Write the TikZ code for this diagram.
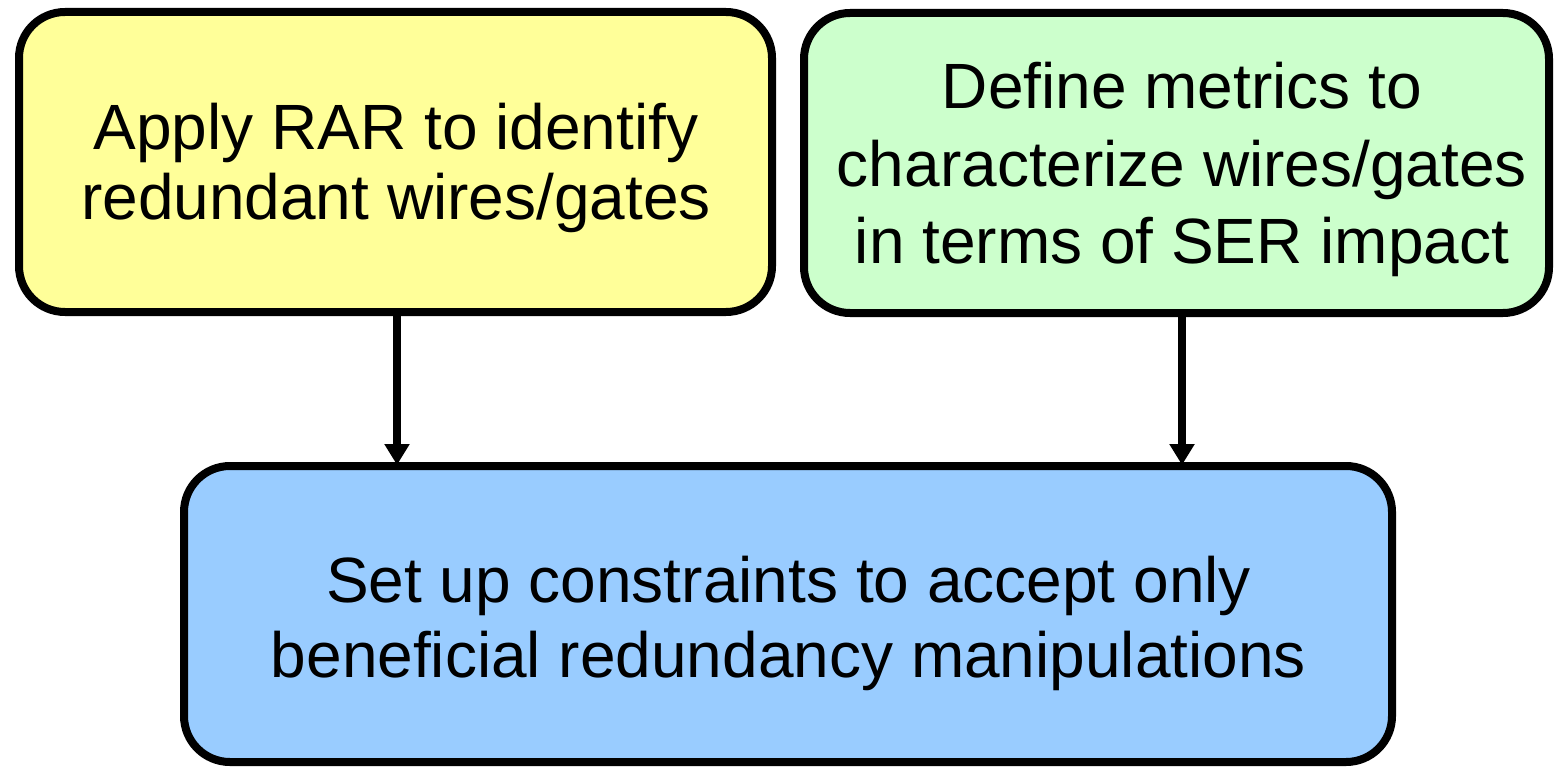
\documentclass[tikz,border=0pt]{standalone}
\usepackage{fontspec}
\setmainfont{Liberation Sans}
\usetikzlibrary{arrows.meta}
% struts fixing the top of the first line and the bottom of the last line
\newcommand{\topstrut}[1]{\rule{0pt}{#1}}
\newcommand{\botstrut}[1]{\rule[-#1]{0pt}{#1}}
\begin{document}
\begin{tikzpicture}[x=1pt,y=-1pt,
  stepbox/.style={draw=black, line width=8pt, rounded corners=46pt, inner sep=0pt},
  steptext/.style={align=center, inner sep=0pt},
  flow/.style={line width=8pt, -{Triangle[width=24pt,length=21pt]}, shorten >=-3pt}]
\useasboundingbox (0,0) rectangle (1554,767);
% boxes
\node[stepbox, fill={rgb,255:red,255;green,255;blue,153},
  minimum width=753pt, minimum height=300pt] (rar) at (395.5,162) {};
\node[stepbox, fill={rgb,255:red,204;green,255;blue,204},
  minimum width=745pt, minimum height=300pt] (metric) at (1176.5,163) {};
\node[stepbox, fill={rgb,255:red,153;green,204;blue,255},
  minimum width=1208pt, minimum height=296pt] (constr) at (788,614) {};
% texts
\node[steptext, font=\fontsize{64}{70}\selectfont] (rartext) at (396,162)
  {\topstrut{66pt}Apply RAR to identify\\redundant wires/gates\botstrut{20pt}};
\node[steptext, font=\fontsize{64}{77}\selectfont] (metrictext) at (1182,163)
  {\topstrut{66pt}Define metrics to\\characterize wires/gates\\in terms of SER impact\botstrut{20pt}};
\node[steptext, font=\fontsize{64}{75}\selectfont] (constrtext) at (788.5,614)
  {\topstrut{71pt}Set up constraints to accept only\\beneficial redundancy manipulations\botstrut{20pt}};
% connectors
\coordinate (ax1) at (397,0);
\coordinate (ax2) at (1182,0);
\draw[flow] (rar.south -| ax1) -- (constr.north -| ax1);
\draw[flow] (metric.south -| ax2) -- (constr.north -| ax2);
\end{tikzpicture}
\end{document}
